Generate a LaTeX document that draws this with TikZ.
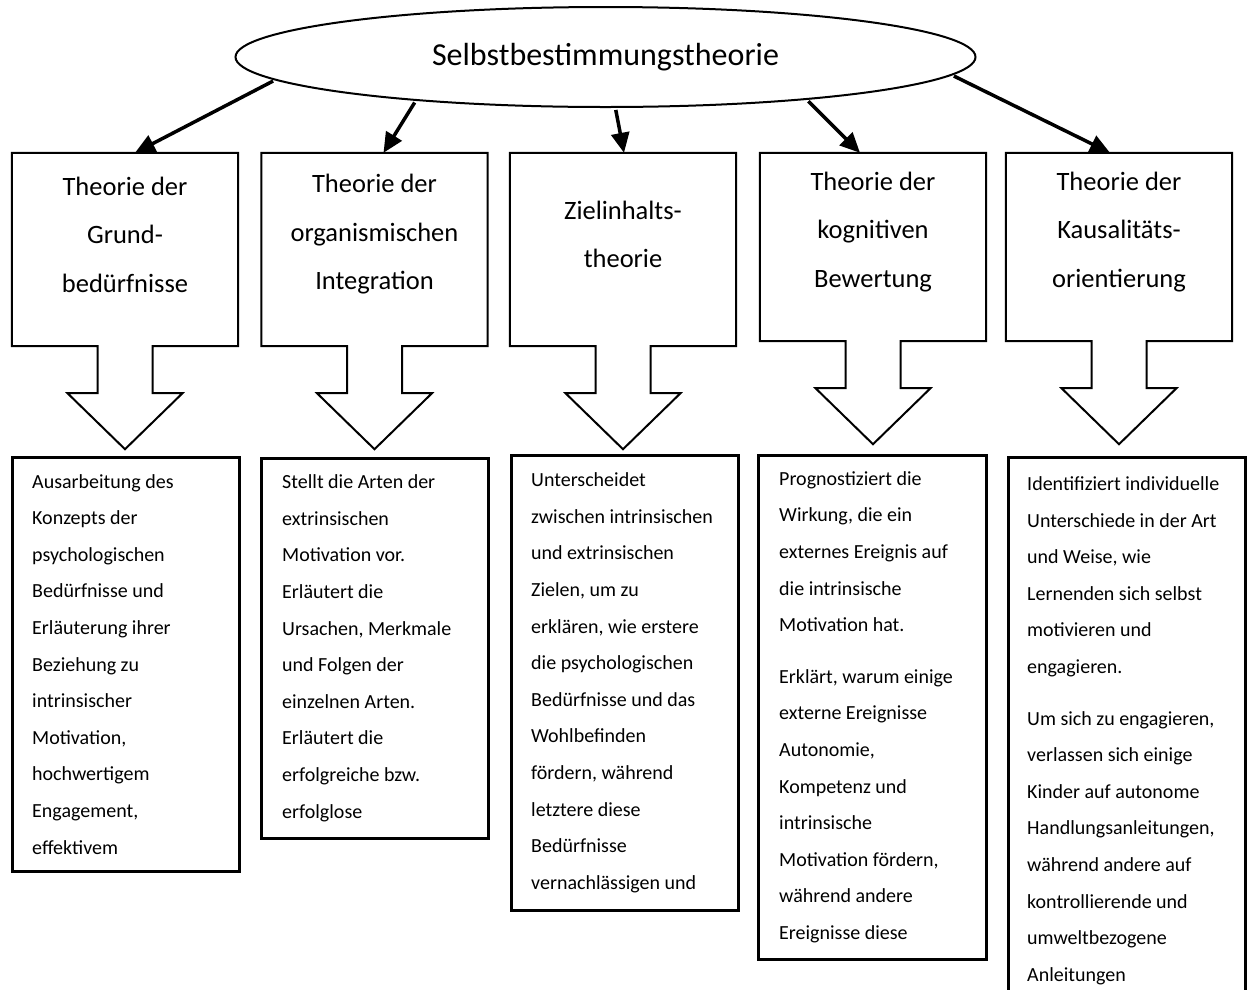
\documentclass[tikz,border=0pt]{standalone}
\usepackage{fontspec}
\setmainfont{Carlito}
\usetikzlibrary{arrows.meta, shapes.geometric, positioning}

\begin{document}
\begin{tikzpicture}[x=1pt, y=-1pt,
    headbox/.style={minimum width=226pt, inner sep=0pt},
    headtext/.style={align=center, inner sep=0pt, font=\fontsize{26.5}{48.5}\selectfont},
    bodybox/.style={draw, line width=2.5pt, anchor=north west, minimum width=227pt, inner sep=0pt},
    bodytext/.style={align=left, anchor=west, inner sep=0pt, font=\fontsize{20}{36.6}\selectfont},
    callout/.style={line width=2pt, line join=miter},
    link/.style={line width=3.5pt, -{Triangle[length=20pt,width=18pt]}, shorten <=2pt}]
\useasboundingbox (0,0) rectangle (1247,989);

% top
\node[ellipse, draw, line width=2pt, minimum width=740pt, minimum height=100pt,
      font=\fontsize{32}{38}\selectfont] (sdt) at (605.5,57) {Selbstbestimmungstheorie};

% theories
\node[headbox, minimum height=193pt] (h1) at (125,249.5) {};
\node[headbox, minimum height=193pt] (h2) at (374.5,249.5) {};
\node[headbox, minimum height=193pt] (h3) at (623,249.5) {};
\node[headbox, minimum height=188pt] (h4) at (873,247) {};
\node[headbox, minimum height=188pt] (h5) at (1119,247) {};

\foreach \h in {h1,h2,h3,h4,h5}
  \draw[callout] (\h.north west) -- (\h.north east) -- (\h.south east)
    -- ([xshift=27.5pt]\h.south) -- ++(0,47) -- ++(30,0) -- ++(-57.5,56)
    -- ++(-57.5,-56) -- ++(30,0) -- ++(0,-47) -- (\h.south west) -- cycle;

\node[headtext] (t1) at ([yshift=15pt]h1.center) {Theorie der\\Grund-\\bedürfnisse};
\node[headtext] (t2) at ([yshift=15pt]h2.center) {Theorie der\\organismischen\\Integration};
\node[headtext] (t3) at ([yshift=15pt]h3.center) {Zielinhalts-\\theorie};
\node[headtext] (t4) at ([yshift=15pt]h4.center) {Theorie der\\kognitiven\\Bewertung};
\node[headtext] (t5) at ([yshift=15pt]h5.center) {Theorie der\\Kausalitäts-\\orientierung};

\draw[link] (sdt.184) -- ([xshift=10pt]h1.north);
\draw[link] (sdt.193) -- ([xshift=9pt]h2.north);
\draw[link] (sdt.281) -- ([xshift=1pt]h3.north);
\draw[link] (sdt.348) -- ([xshift=-13pt]h4.north);
\draw[link] (sdt.357) -- ([xshift=-9pt]h5.north);

% descriptions
\node[bodybox, minimum height=414pt] (b1) at (11,456) {};
\node[bodybox, minimum height=380pt] (b2) at (260,457) {};
\node[bodybox, minimum height=455pt] (b3) at (510,454) {};
\node[bodybox, minimum height=504pt, minimum width=228pt] (b4) at (757,454) {};
\node[bodybox, minimum height=547pt, minimum width=237pt] (b5) at (1007,456) {};

\node[bodytext] (d1) at ([xshift=21pt]b1.west) {Ausarbeitung des\\Konzepts der\\psychologischen\\Bedürfnisse und\\Erläuterung ihrer\\Beziehung zu\\intrinsischer\\Motivation,\\hochwertigem\\Engagement,\\effektivem};
\node[bodytext] (d2) at ([xshift=22pt]b2.west) {Stellt die Arten der\\extrinsischen\\Motivation vor.\\Erläutert die\\Ursachen, Merkmale\\und Folgen der\\einzelnen Arten.\\Erläutert die\\erfolgreiche bzw.\\erfolglose};
\node[bodytext] (d3) at ([xshift=21pt]b3.west) {Unterscheidet\\zwischen intrinsischen\\und extrinsischen\\Zielen, um zu\\erklären, wie erstere\\die psychologischen\\Bedürfnisse und das\\Wohlbefinden\\fördern, während\\letztere diese\\Bedürfnisse\\vernachlässigen und};
\node[bodytext] (d4) at ([xshift=22pt]b4.west) {Prognostiziert die\\Wirkung, die ein\\externes Ereignis auf\\die intrinsische\\Motivation hat.\\[15pt]Erklärt, warum einige\\externe Ereignisse\\Autonomie,\\Kompetenz und\\intrinsische\\Motivation fördern,\\während andere\\Ereignisse diese};
\node[bodytext] (d5) at ([xshift=20pt]b5.west) {Identifiziert individuelle\\Unterschiede in der Art\\und Weise, wie\\Lernenden sich selbst\\motivieren und\\engagieren.\\[15pt]Um sich zu engagieren,\\verlassen sich einige\\Kinder auf autonome\\Handlungsanleitungen,\\während andere auf\\kontrollierende und\\umweltbezogene\\Anleitungen};
\end{tikzpicture}
\end{document}
